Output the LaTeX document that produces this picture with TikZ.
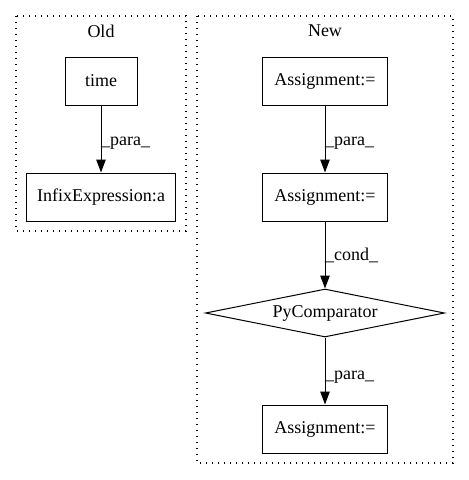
\documentclass[tikz,border=0pt]{standalone}
\usepackage{fontspec}
\setmainfont{Liberation Serif}
\usetikzlibrary{arrows.meta,shapes.geometric}
\begin{document}
\begin{tikzpicture}[x=1pt,y=-1pt,
  every node/.style={font=\fontsize{18}{21}\selectfont},
  box/.style={draw,line width=1pt,rectangle,inner sep=0pt},
  cluster/.style={draw,dash pattern=on 1.3pt off 4.7pt,line width=1.3pt},
  edge/.style={draw,line width=1pt,-{Triangle[length=13pt,width=9.5pt]}},
  elabel/.style={anchor=west,inner sep=0pt}]
\useasboundingbox (0,0) rectangle (469,480);
% clusters
\draw[cluster] (16,16) rectangle (186,231);
\node (oldlbl) at (101,31) {Old};
\draw[cluster] (197,16) rectangle (453,463);
\node (newlbl) at (325,31) {New};
% Old nodes
\node[box,minimum width=72pt,minimum height=48pt] (time) at (101,81) {time};
\node[box,minimum width=149pt,minimum height=48pt] (infix) at (101,197) {InfixExpression:a};
\draw[edge] (time) -- (infix);
\node[elabel] (l1) at (101,143) {\_para\_};
% New nodes
\node[box,minimum width=125pt,minimum height=48pt] (a1) at (325,81) {Assignment:=};
\node[box,minimum width=125pt,minimum height=48pt] (a2) at (325,197) {Assignment:=};
\node[draw,line width=1pt,diamond,aspect=5,inner sep=0pt,minimum width=239pt,minimum height=48pt] (pc) at (325,313) {PyComparator};
\node[box,minimum width=125pt,minimum height=48pt] (a3) at (325,429) {Assignment:=};
\draw[edge] (a1) -- (a2);
\draw[edge] (a2) -- (pc);
\draw[edge] (pc) -- (a3);
\node[elabel] (l2) at (325,143) {\_para\_};
\node[elabel] (l3) at (325,255) {\_cond\_};
\node[elabel] (l4) at (325,377) {\_para\_};
\end{tikzpicture}
\end{document}
